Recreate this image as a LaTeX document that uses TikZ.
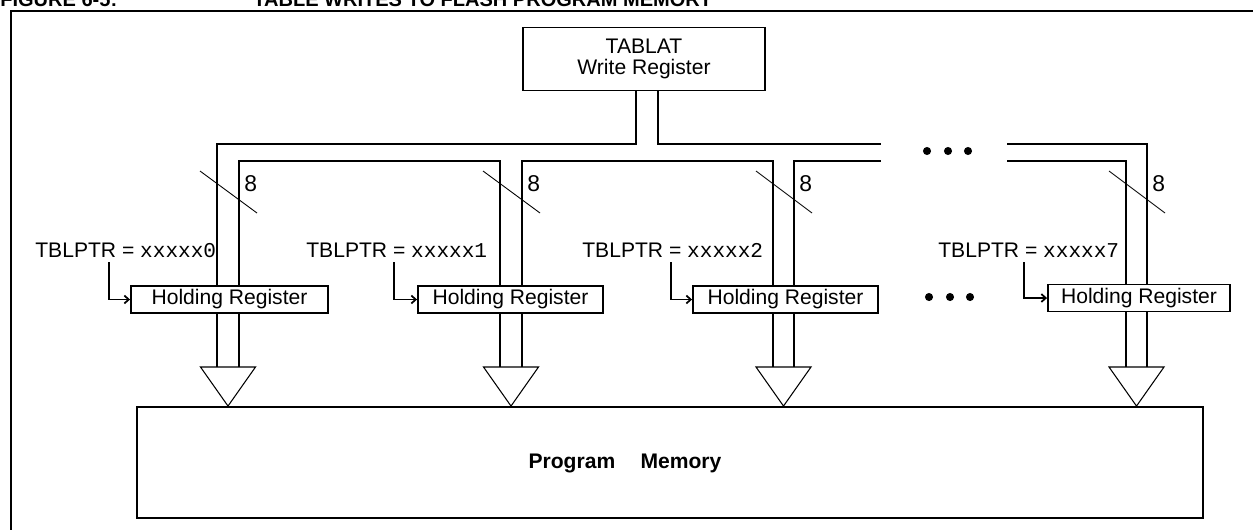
\documentclass[tikz,border=0pt]{standalone}
\usepackage{fontspec}
\setmainfont{Liberation Sans}
\setmonofont{Liberation Mono}
\usetikzlibrary{arrows.meta, positioning, calc}

\begin{document}
\begin{tikzpicture}[
                                        x=0.02cm, y=-0.02cm,
                                        every node/.style={font=\fontsize{12}{12}\selectfont, inner sep=0pt},
                                        bus/.style={line width=1.1pt},
                                        reg/.style={draw, line width=1.1pt, minimum height=0.54cm},
                                        slash/.style={line width=0.5pt},
                                        tri/.style={line width=0.6pt},
                                        ptr/.style={line width=1pt, -{Straight Barb[length=2.5pt, width=4.5pt]}},
                                        ttl/.style={font=\fontsize{11.4}{12}\selectfont\bfseries, anchor=base west},
                                ]
                                \useasboundingbox (0,0) rectangle (1253,529);
                                \clip (0,0) rectangle (1253,529);
                                \node[ttl] (fig) at (0,6.5) {FIGURE 6-5:};
                                \node[ttl] (cap) at (253,6.5) {TABLE WRITES TO FLASH PROGRAM MEMORY};
                                \draw[line width=1.1pt] (11,600) -- (11,11) -- (1300,11);

                                \node[reg, minimum width=4.84cm, minimum height=1.26cm, align=center] (tab) at (644,59) {TABLAT\\Write Register};
                                \node[reg, minimum width=3.94cm] (h1) at (229.5,299.5) {Holding Register};
                                \node[reg, minimum width=3.70cm] (h2) at (510.5,299.5) {Holding Register};
                                \node[reg, minimum width=3.70cm] (h3) at (785.5,299.5) {Holding Register};
                                \node[reg, minimum width=3.64cm] (h4) at (1139,298) {Holding Register};
                                \node[draw, line width=1.1pt, minimum width=21.32cm, minimum height=2.22cm] (pm) at (670,462.5) {};
                                \node[font=\fontsize{12}{12}\selectfont\bfseries] (pmt) at (625,463) {Program\hspace{1.2em}Memory};

                                \coordinate (s1) at (636,144);
                                \coordinate (s2) at (658,144);
                                \coordinate (e1) at (881,144);
                                \coordinate (e2) at (881,161);
                                \coordinate (f1) at (1007,144);
                                \coordinate (f2) at (1007,161);

                                \foreach \n/\xl/\xr in {1/217/239, 2/500/522, 3/773/794, 4/1126/1147} {
                                        \coordinate (l\n) at (\xl,161);
                                        \coordinate (r\n) at (\xr,161);
                                        \coordinate (m\n) at ({(\xl+\xr)/2},367);
                                        \draw[slash] (\xl-17,171) -- (\xr+18,213);
                                        \node[anchor=west, font=\fontsize{13}{13}\selectfont] (w\n) at (\xr+5,184) {8};
                                        \draw[bus] (h\n.south -| l\n) -- (\xl,367);
                                        \draw[bus] (h\n.south -| r\n) -- (\xr,367);
                                        \draw[tri] ($(m\n)+(-27.5,0)$) -- ($(m\n)+(27.5,0)$) -- (m\n |- pm.north) -- cycle;
                                }

                                \draw[bus] (tab.south -| s1) -- (s1) -- (l1 |- s1) -- (h1.north -| l1);
                                \draw[bus] (tab.south -| s2) -- (s2) -- (e1);
                                \draw[bus] (h1.north -| r1) -- (r1) -- (l2) -- (h2.north -| l2);
                                \draw[bus] (h2.north -| r2) -- (r2) -- (l3) -- (h3.north -| l3);
                                \draw[bus] (h3.north -| r3) -- (r3) -- (e2);
                                \draw[bus] (f1) -- (r4 |- f1) -- (h4.north -| r4);
                                \draw[bus] (f2) -- (l4) -- (h4.north -| l4);

                                \foreach \n/\lx/\vx/\v in {1/35/109/0, 2/306/394/1, 3/582/671/2, 4/938/1024/7} {
                                        \node[anchor=west] (t\n) at (\lx,250) {TBLPTR = \texttt{xxxxx\v}};
                                        \coordinate (p\n) at (\vx,262);
                                        \draw[ptr] (p\n) |- (h\n.west);
                                }

                                \foreach \x in {927,948,968} {
                                        \fill (\x,151) circle (2.3pt);
                                        \fill (\x+2,297) circle (2.3pt);
                                }
                        \end{tikzpicture}
\end{document}
